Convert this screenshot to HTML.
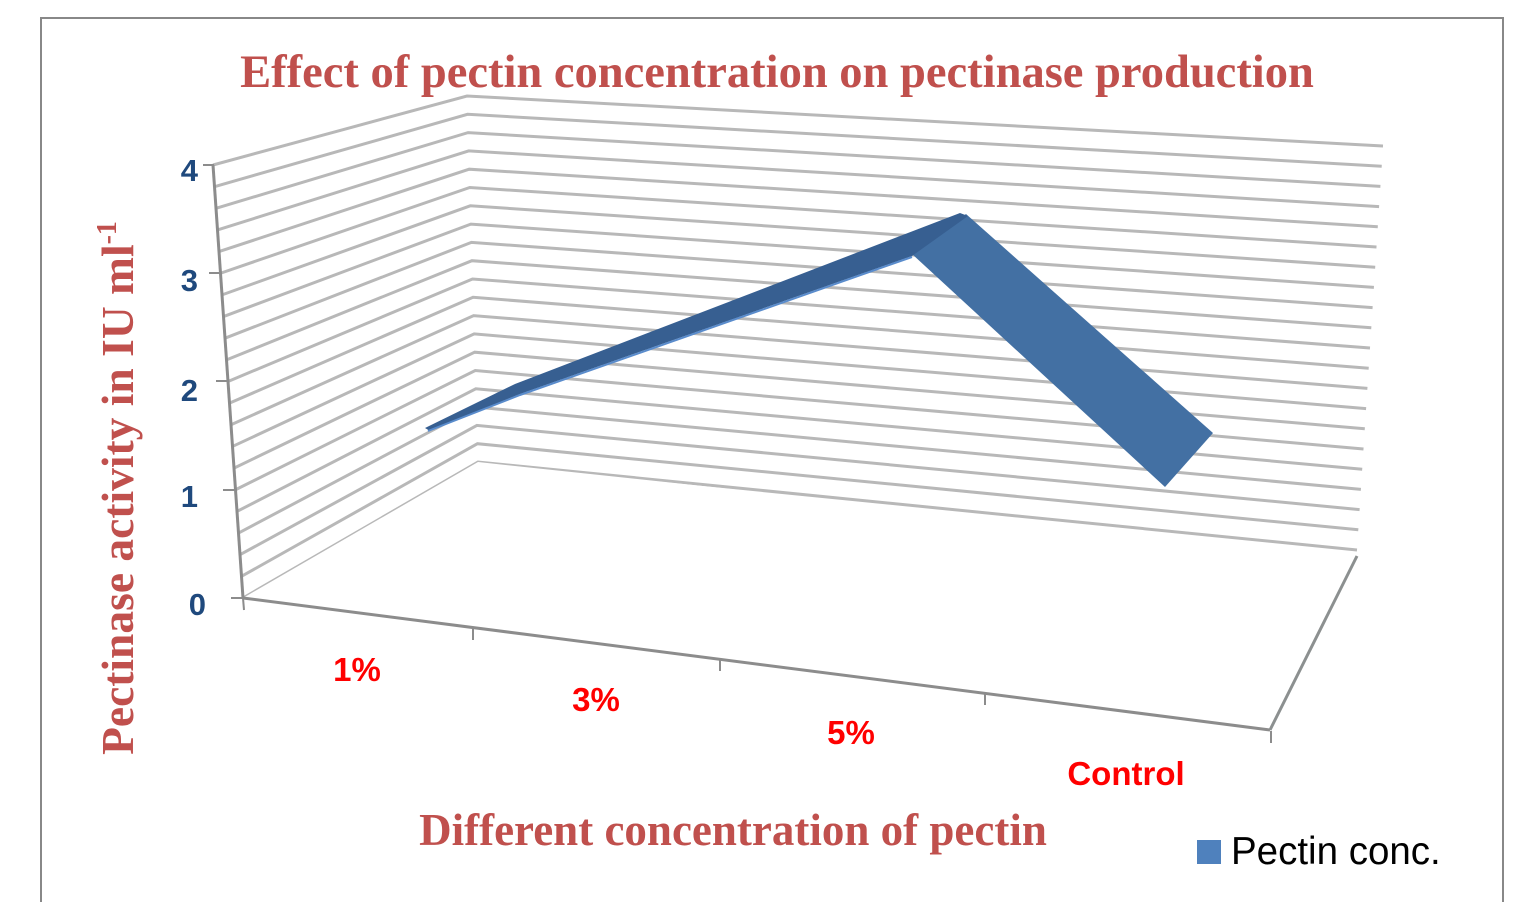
<!DOCTYPE html>
<html><head><meta charset="utf-8"><style>
body{margin:0;background:#fff;width:1515px;height:902px;overflow:hidden;}
svg{display:block}
</style></head><body>
<svg width="1515" height="902" viewBox="0 0 1515 902" xmlns="http://www.w3.org/2000/svg">
<rect x="41" y="18" width="1462" height="900" fill="#fff" stroke="#888" stroke-width="2"/>
<g stroke="#b8b8b8" stroke-width="3" fill="none" id="grid"></g>
<polygon points="243,598 1270,730 1357,556 478,462" fill="#fff" stroke="none"/>
<line x1="243" y1="598" x2="1270" y2="730" stroke="#8c8c8c" stroke-width="3"/>
<line x1="1270" y1="730" x2="1357" y2="556" stroke="#8c9090" stroke-width="3"/>
<line x1="213" y1="165" x2="243" y2="598" stroke="#8c8c8c" stroke-width="3"/>
<g stroke="#8c8c8c" stroke-width="2">
<line x1="203" y1="165" x2="214" y2="165"/><line x1="209" y1="273" x2="221" y2="273"/>
<line x1="216" y1="381" x2="228" y2="381"/><line x1="223" y1="490" x2="236" y2="490"/>
<line x1="231" y1="598" x2="244" y2="598"/>
<line x1="243" y1="598" x2="244" y2="610"/><line x1="473" y1="628" x2="473" y2="640"/>
<line x1="720" y1="659" x2="720" y2="671"/><line x1="985" y1="693" x2="985" y2="705"/>
<line x1="1271" y1="731" x2="1271" y2="743"/>
</g>
<polygon points="912,254 966,214 1213,433 1165,487" fill="#4370a3"/>
<polygon points="425,428 515,384 960,213 968,216 912,256 520,394 430,431" fill="#375f91"/>
<polyline points="428,431 520,395 912,257" fill="none" stroke="#5a8ccc" stroke-width="2"/>
<g font-family="Liberation Sans, sans-serif" font-weight="bold" font-size="31" fill="#1f497d" text-anchor="end">
<text x="198" y="181">4</text><text x="198" y="291">3</text><text x="198" y="401">2</text>
<text x="198" y="507">1</text><text x="206" y="615">0</text>
</g>
<g font-family="Liberation Sans, sans-serif" font-weight="bold" font-size="33" fill="#ff0000" text-anchor="middle">
<text x="357" y="681">1%</text><text x="596" y="711">3%</text><text x="851" y="744">5%</text><text x="1126" y="785">Control</text>
</g>
<text x="777" y="87" text-anchor="middle" font-family="Liberation Serif, serif" font-weight="bold" font-size="46.5" fill="#c0504d">Effect of pectin concentration on pectinase production</text>
<text x="733" y="845" text-anchor="middle" font-family="Liberation Serif, serif" font-weight="bold" font-size="45" fill="#c0504d">Different concentration of pectin</text>
<text transform="translate(133,488) rotate(-90)" text-anchor="middle" font-family="Liberation Serif, serif" font-weight="bold" font-size="45.5" fill="#c0504d">Pectinase activity in IU ml<tspan font-size="28" dy="-17">-1</tspan></text>
<rect x="1197" y="840" width="24" height="24" fill="#4f81bd"/>
<text x="1231" y="864" font-family="Liberation Sans, sans-serif" font-size="38.5" fill="#000">Pectin conc.</text>
</svg>
<script>
var g=document.getElementById('grid'),s='';
for(var i=0;i<=20;i++){var t=i/20;
var fx=213+30*t,fy=165+433*t,bx=467+11*t,by=96+366*t,rx=1383-26*t,ry=146+404*t;
s+='<polyline points="'+fx+','+fy+' '+bx+','+by+' '+rx+','+ry+'"/>';}
g.innerHTML=s;
</script>
</body></html>
